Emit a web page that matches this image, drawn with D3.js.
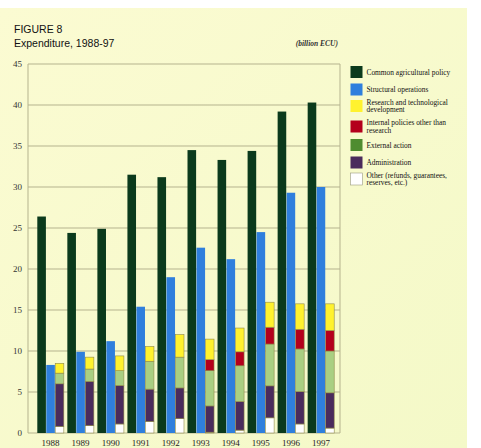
<!DOCTYPE html>
<html><head><meta charset="utf-8">
<script src="https://cdn.jsdelivr.net/npm/d3@7"></script>
<style>body{margin:0;background:#fff}svg{display:block}</style>
</head><body>
<script>
const years = ["1988","1989","1990","1991","1992","1993","1994","1995","1996","1997"];
const cap = [26.4, 24.4, 24.9, 31.5, 31.2, 34.5, 33.3, 34.4, 39.2, 40.3];
const structural = [8.3, 9.9, 11.2, 15.4, 19.0, 22.6, 21.2, 24.5, 29.3, 30.0];
const other = [0.8, 0.9, 1.1, 1.4, 1.75, 0.1, 0.35, 1.85, 1.1, 0.6];
const administration = [5.2, 5.4, 4.7, 3.95, 3.75, 3.2, 3.5, 3.9, 3.95, 4.3];
const external = [1.3, 1.5, 1.8, 3.4, 3.75, 4.3, 4.35, 5.1, 5.2, 5.1];
const internal = [0, 0, 0, 0, 0, 1.35, 1.7, 2.05, 2.4, 2.5];
const research = [1.2, 1.45, 1.8, 1.8, 2.75, 2.5, 2.9, 3.05, 3.1, 3.25];
const yTicks = [0, 5, 10, 15, 20, 25, 30, 35, 40, 45];
const legendLabels = [
  ["Common agricultural policy"],
  ["Structural operations"],
  ["Research and technological", "development"],
  ["Internal policies other than", "research"],
  ["External action"],
  ["Administration"],
  ["Other (refunds, guarantees,", "reserves, etc.)"]
];
const legendColors = ["#0b3a1c", "#2f7fdd", "#fff22e", "#b4001c", "#4f8c30", "#4a2b5c", "#ffffff"];
const stackKeys = ["other", "administration", "external", "internal", "research"];
const stackColors = {other:"#ffffff", administration:"#4a2b5c", external:"#a9cf82", internal:"#b4001c", research:"#fff22e"};

const W = 481, H = 448;
const svg = d3.select("body").append("svg").attr("width", W).attr("height", H);
const defs = svg.append("defs");
const grad = defs.append("linearGradient").attr("id","bg").attr("x1","0").attr("y1","0").attr("x2","1").attr("y2","1");
grad.append("stop").attr("offset","0").attr("stop-color","#fbfbd2");
grad.append("stop").attr("offset","1").attr("stop-color","#f4f9c8");
svg.append("rect").attr("x",0).attr("y",8).attr("width",467).attr("height",H-8).attr("fill","url(#bg)");

const x0 = 28, x1 = 340, yTop = 64, yBot = 433;
const y = d3.scaleLinear().domain([0,45]).range([yBot, yTop]);
const xb = d3.scaleBand().domain(years).range([37.3, 334.2]).paddingInner(0.117).paddingOuter(0);
const xs = d3.scaleBand().domain(["cap","str","stk"]).range([0, xb.bandwidth()]).paddingInner(0.04);

// grid
const gridColor = "#b5b38e";
svg.append("g").selectAll("line").data(yTicks).join("line")
  .attr("x1", x0).attr("x2", x1).attr("y1", d=>y(d)).attr("y2", d=>y(d))
  .attr("stroke", gridColor).attr("stroke-width", 1);
svg.append("line").attr("x1",x0).attr("x2",x0).attr("y1",yTop).attr("y2",yBot).attr("stroke",gridColor);
svg.append("line").attr("x1",x1).attr("x2",x1).attr("y1",yTop).attr("y2",yBot).attr("stroke",gridColor);

// y axis labels
const yAxis = d3.axisLeft(y).tickValues(yTicks).tickSize(0).tickPadding(4);
const ya = svg.append("g").attr("transform",`translate(${x0-2},0)`).call(yAxis);
ya.select(".domain").remove();
ya.selectAll("text").attr("font-family","'Liberation Serif', serif").attr("font-size",9).attr("fill","#333");

// x axis labels
const xAxis = d3.axisBottom(xb).tickSize(0).tickPadding(7);
const xa = svg.append("g").attr("transform",`translate(0,${yBot})`).call(xAxis);
xa.select(".domain").remove();
xa.selectAll("text").attr("font-family","'Liberation Serif', serif").attr("font-size",9).attr("fill","#222");

// bars
const g = svg.append("g");
years.forEach((yr,i)=>{
  const gx = xb(yr);
  g.append("rect").attr("x", gx + xs("cap")).attr("width", xs.bandwidth())
    .attr("y", y(cap[i])).attr("height", y(0)-y(cap[i])).attr("fill", legendColors[0]);
  g.append("rect").attr("x", gx + xs("str")).attr("width", xs.bandwidth())
    .attr("y", y(structural[i])).attr("height", y(0)-y(structural[i])).attr("fill", legendColors[1]);
});
const rows = years.map((yr,i)=>({year:yr, other:other[i], administration:administration[i], external:external[i], internal:internal[i], research:research[i]}));
const stack = d3.stack().keys(stackKeys)(rows);
stack.forEach(layer=>{
  g.append("g").selectAll("rect").data(layer.filter(d=>d[1]-d[0]>0)).join("rect")
    .attr("x", d=>xb(d.data.year)+xs("stk")).attr("width", xs.bandwidth())
    .attr("y", d=>y(d[1])).attr("height", d=>y(d[0])-y(d[1]))
    .attr("fill", stackColors[layer.key]).attr("stroke","#8f8a4a").attr("stroke-width",0.6);
});

// titles
svg.append("text").attr("x",14).attr("y",33).text("FIGURE 8")
  .attr("font-family","'Liberation Sans', Arial, sans-serif").attr("font-size",10.5).attr("fill","#111");
svg.append("text").attr("x",14).attr("y",47).text("Expenditure, 1988-97")
  .attr("font-family","'Liberation Sans', Arial, sans-serif").attr("font-size",10.5).attr("fill","#111");
svg.append("text").attr("x",338).attr("y",46).attr("text-anchor","end").text("(billion ECU)")
  .attr("font-family","'Liberation Serif', serif").attr("font-style","italic").attr("font-weight","bold").attr("font-size",7.5).attr("fill","#333");

// legend
const legY = [66, 83.5, 100, 120.5, 139, 156.5, 173];
const lg = svg.append("g");
legendLabels.forEach((lines,i)=>{
  lg.append("rect").attr("x",350.5).attr("y",legY[i]).attr("width",12).attr("height",12)
    .attr("fill",legendColors[i]).attr("stroke", i===6 ? "#9a9a80" : "none").attr("stroke-width",0.6);
  const t = lg.append("text").attr("font-family","'Liberation Serif', serif").attr("font-size",7.4)
    .attr("fill","#111");
  if (lines.length===1) {
    t.append("tspan").attr("x",366.5).attr("y",legY[i]+8.5).text(lines[0]);
  } else {
    t.append("tspan").attr("x",366.5).attr("y",legY[i]+4.5).text(lines[0]);
    t.append("tspan").attr("x",366.5).attr("y",legY[i]+12.3).text(lines[1]);
  }
});
</script>
</body></html>
